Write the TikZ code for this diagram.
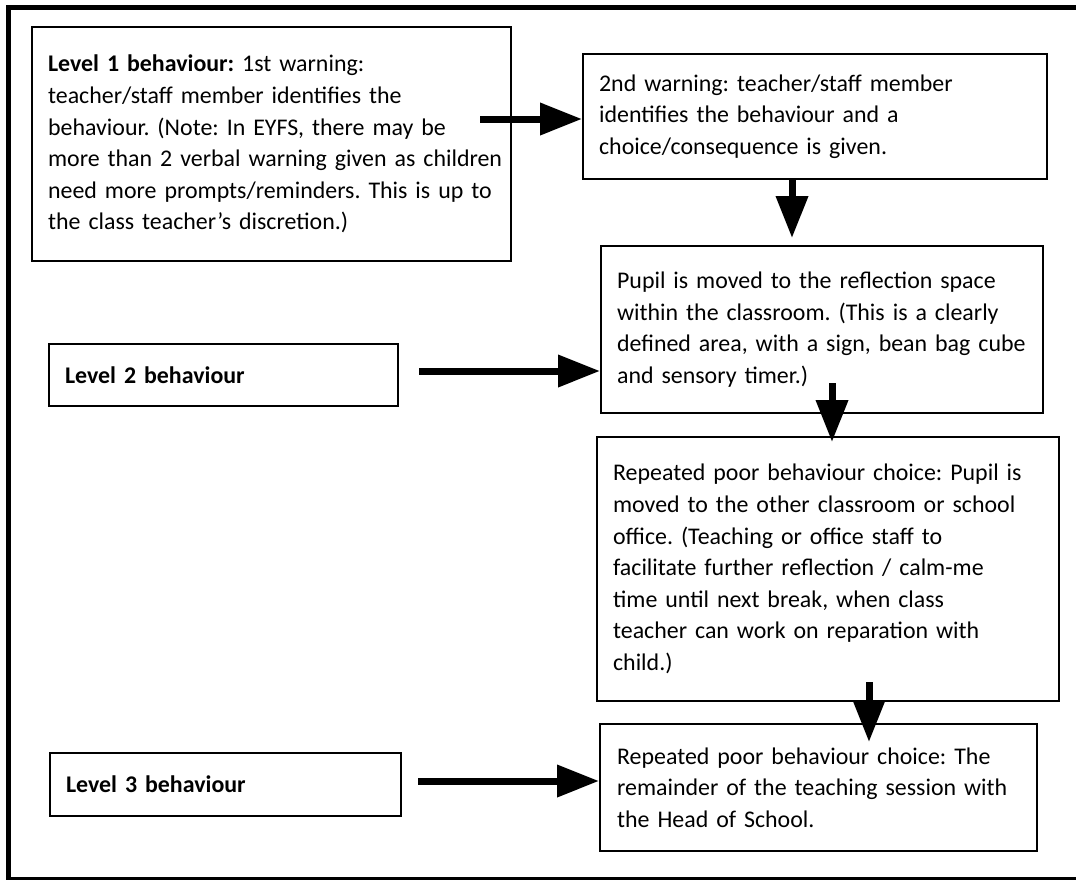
\documentclass[tikz,border=0pt]{standalone}
\usepackage{fontspec}
\setmainfont{Carlito}
\usetikzlibrary{arrows.meta}
\newcommand\tl[1]{\mbox{#1}}
\tikzset{
  box/.style={draw, line width=2.2pt, align=left, anchor=north west,
    inner xsep=16pt, inner ysep=0pt,
    font=\fontsize{23.9}{31.6}\selectfont\frenchspacing},
  arr/.style={line width=7pt, -{Triangle[length=42pt,width=31pt]}},
  frame/.style={line width=5.5pt}
}
\begin{document}
\begin{tikzpicture}[x=1pt,y=-1pt]
\useasboundingbox (0,0) rectangle (1076,881);
% outer frame
\draw[frame] (8.5,7.5) -- (1076,7.5);
\draw[frame] (8.5,5) -- (8.5,880);
\draw[line width=2.5pt] (6,878.7) -- (1076,878.7);

\node[box, minimum width=479pt, minimum height=234pt, text width=447pt] (b1) at (31,26)
{\tl{\textbf{Level 1 behaviour:} 1st warning:}\\
\tl{teacher/staff member identifies the}\\
\tl{behaviour. (Note: In EYFS, there may be}\\
\tl{more than 2 verbal warning given as children}\\
\tl{need more prompts/reminders. This is up to}\\
\tl{the class teacher’s discretion.)}};

\node[box, minimum width=464pt, minimum height=125pt, text width=432pt] (b2) at (582,53)
{\tl{2nd warning: teacher/staff member}\\
\tl{identifies the behaviour and a}\\
\tl{choice/consequence is given.}};

\node[box, minimum width=442pt, minimum height=167pt, text width=410pt] (b3) at (600,245)
{\tl{Pupil is moved to the reflection space}\\
\tl{within the classroom. (This is a clearly}\\
\tl{defined area, with a sign, bean bag cube}\\
\tl{and sensory timer.)}};

\node[box, minimum width=349pt, minimum height=62pt, text width=317pt] (l2) at (48,343)
{\textbf{Level 2 behaviour}};

\node[box, minimum width=462pt, minimum height=264pt, text width=430pt] (b4) at (596,436)
{\tl{Repeated poor behaviour choice: Pupil is}\\
\tl{moved to the other classroom or school}\\
\tl{office. (Teaching or office staff to}\\
\tl{facilitate further reflection / calm-me}\\
\tl{time until next break, when class}\\
\tl{teacher can work on reparation with}\\
\tl{child.)}};

\node[box, minimum width=437pt, minimum height=127pt, text width=403pt, inner xsep=17pt] (b5) at (599,723)
{\tl{Repeated poor behaviour choice: The}\\
\tl{remainder of the teaching session with}\\
\tl{the Head of School.}};

\node[box, minimum width=351pt, minimum height=63pt, text width=319pt] (l3) at (49,752)
{\textbf{Level 3 behaviour}};

% connectors
\coordinate (a1s) at (480,119);
\coordinate (a2s) at (419,371);
\coordinate (a3s) at (418,781);
\coordinate (v1s) at (792,178);
\coordinate (v1e) at (792,238);
\coordinate (v2s) at (832,383);
\coordinate (v2e) at (832,442);
\coordinate (v3s) at (869,682);
\coordinate (v3e) at (869,742);

\draw[arr] (a1s) -- (a1s -| b2.west);
\draw[arr] (a2s) -- (a2s -| b3.west);
\draw[arr] (a3s) -- (a3s -| b5.west);
\draw[arr] (v1s) -- (v1e);
\draw[arr] (v2s) -- (v2e);
\draw[arr] (v3s) -- (v3e);
\end{tikzpicture}
\end{document}
